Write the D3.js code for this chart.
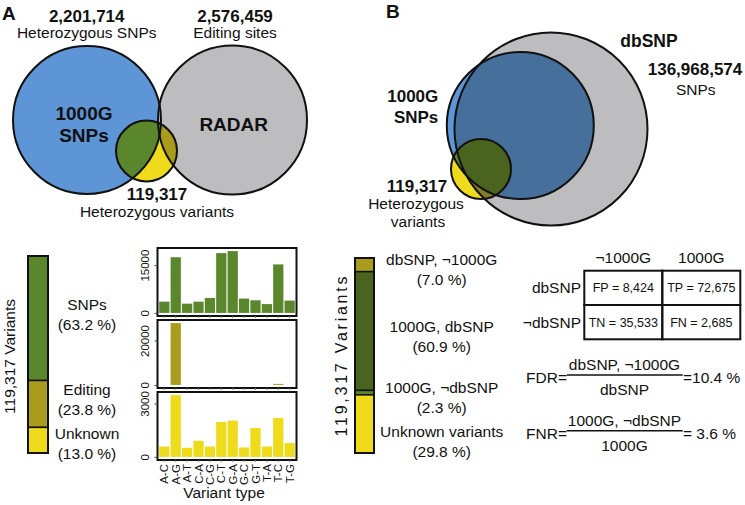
<!DOCTYPE html>
<html><head><meta charset="utf-8">
<script src="https://cdn.jsdelivr.net/npm/d3@7"></script>
<style>
body{margin:0;background:#fff}
svg{display:block}
text{font-family:"Liberation Sans",Arial,Helvetica,sans-serif;fill:#111}
</style></head>
<body><svg id="c" width="745" height="505"></svg>
<script>
// ---------------- data ----------------
const variantTypes = ["A-C","A-G","A-T","C-A","C-G","C-T","G-A","G-C","G-T","T-A","T-C","T-G"];
const snpCounts     = [3540,17480,2900,3540,4700,18770,19410,4500,3960,2770,15230,3860];
const editingCounts = [0,27850,0,0,0,0,0,0,0,0,450,0];
const unknownCounts = [583,3470,509,906,583,1964,2038,530,1623,583,2190,775];
const snpTicks = [0,15000];
const editingTicks = [0,20000];
const unknownTicks = [0,3000];

const totalVariants = 119317;
const classA = ["SNPs","Editing","Unknown"];
const classAPct = [63.2,23.8,13.0];

const vennACounts = [2201714, 2576459];
const vennADesc = ["Heterozygous SNPs","Editing sites"];
const vennANames = [["1000G","SNPs"],["RADAR"]];
const dbsnpCount = 136968574;

const confRows = ["dbSNP","¬dbSNP"];
const confCols = ["¬1000G","1000G"];
const confKeys = [["FP","TP"],["TN","FN"]];
const confValues = [[8424,72675],[35533,2685]];
const classB = ["dbSNP, ¬1000G","1000G, dbSNP","1000G, ¬dbSNP","Unknown variants"];
const classBPct = [7.0,60.9,2.3,29.8];

// ---------------- setup ----------------
const svg = d3.select("#c");
const fmt = d3.format(",");
const C = {blue:"#5e95d6",gray:"#bdbdbf",green:"#5a872c",olive:"#a99c1c",yellow:"#eedb1b",
           darkBlue:"#476f9c",darkGreen:"#4a641f",darkOlive:"#857b22",ink:"#111"};
const defs = svg.append("defs");

function txt(g,x,y,s,o={}){
  return g.append("text").attr("x",x).attr("y",y).text(s)
    .attr("font-size",o.size||15.5).attr("font-weight",o.weight||"normal")
    .attr("text-anchor",o.anchor||"middle");
}
function clipCircle(id,c){
  defs.append("clipPath").attr("id",id).append("circle").attr("cx",c.cx).attr("cy",c.cy).attr("r",c.r);
}
function circ(g,c,fill,clip){
  const e=g.append("circle").attr("cx",c.cx).attr("cy",c.cy).attr("r",c.r).attr("fill",fill);
  if(clip) e.attr("clip-path",`url(#${clip})`);
  return e;
}
function outline(g,c){ circ(g,c,"none").attr("stroke",C.ink).attr("stroke-width",2); }

// ---------------- Panel A Venn ----------------
const gA = svg.append("g");
const cBlue={cx:87,cy:120,r:74}, cGray={cx:232.5,cy:120,r:74.5}, cSmall={cx:146.5,cy:151,r:30.5};
clipCircle("clipAblue",cBlue); clipCircle("clipAgray",cGray);
circ(gA,cBlue,C.blue); circ(gA,cGray,C.gray);
circ(gA,cSmall,C.yellow);
circ(gA,cSmall,C.green,"clipAblue");
circ(gA,cSmall,C.olive,"clipAgray");
[cBlue,cGray,cSmall].forEach(c=>outline(gA,c));
txt(gA,2,20,"A",{size:19,weight:"bold",anchor:"start"});
txt(gA,86.7,21.7,fmt(vennACounts[0]),{size:17,weight:"bold"});
txt(gA,86.7,38,vennADesc[0]);
txt(gA,235,21.7,fmt(vennACounts[1]),{size:17,weight:"bold"});
txt(gA,235,38,vennADesc[1]);
txt(gA,84,120,vennANames[0][0],{size:19,weight:"bold"});
txt(gA,84,141.7,vennANames[0][1],{size:19,weight:"bold"});
txt(gA,233.7,131,vennANames[1][0],{size:19,weight:"bold"});
txt(gA,157,199.5,fmt(totalVariants),{size:17,weight:"bold"});
txt(gA,157,216.5,"Heterozygous variants");

// ---------------- stacked bar helper ----------------
function stackedBar(g,x0,x1,y0,y1,names,vals,colors,labelX,shift,gap){
  const total=d3.sum(vals);
  const y=d3.scaleLinear().domain([0,total]).range([y0,y1]);
  let acc=0; const segs=vals.map((v,i)=>{const s={a:acc,b:acc+v,name:names[i],v,c:colors[i]};acc+=v;return s;});
  g.selectAll(null).data(segs).join("rect")
    .attr("x",x0).attr("width",x1-x0)
    .attr("y",d=>y(d.a)).attr("height",d=>y(d.b)-y(d.a))
    .attr("fill",d=>d.c).attr("stroke",C.ink).attr("stroke-width",1.5);
  g.append("rect").attr("x",x0).attr("y",y0).attr("width",x1-x0).attr("height",y1-y0)
    .attr("fill","none").attr("stroke",C.ink).attr("stroke-width",2);
  let prev=-Infinity;
  segs.forEach(s=>{
    let c=(y(s.a)+y(s.b))/2+shift;
    c=Math.max(c,prev+gap); prev=c;
    txt(g,labelX,c-8.5,s.name);
    txt(g,labelX,c+11.5,`(${d3.format(".1f")(s.v/total*100)} %)`);
  });
  return y;
}

// ---------------- Panel A stacked bar ----------------
const gAs = svg.append("g");
stackedBar(gAs,28,48,256,453,classA,classAPct,[C.green,C.olive,C.yellow],87,0,44);
gAs.append("text").attr("transform","translate(10,356.5) rotate(-90)").attr("dy","0.35em")
  .attr("text-anchor","middle").attr("font-size",15.5).text(`${fmt(totalVariants)} Variants`);

// ---------------- Panel A bar charts ----------------
const gB = svg.append("g");
const bx = d3.scaleBand().domain(variantTypes).range([157.5,296.5]).paddingInner(0.1).paddingOuter(0.15);
const panels = [
  {values:snpCounts, ticks:snpTicks, color:C.green, top:248},
  {values:editingCounts, ticks:editingTicks, color:C.olive, top:320},
  {values:unknownCounts, ticks:unknownTicks, color:C.yellow, top:392}
];
const PH = 68;
panels.forEach((p,pi)=>{
  const mx=d3.max(p.values);
  const y=d3.scaleLinear().domain([-0.05*mx,1.05*mx]).range([p.top+PH,p.top]);
  const g=gB.append("g");
  g.selectAll(null).data(p.values).join("rect")
    .attr("x",(d,i)=>bx(variantTypes[i])).attr("width",bx.bandwidth())
    .attr("y",d=>y(d)).attr("height",d=>Math.max(0,y(0)-y(d)))
    .attr("fill",p.color);
  g.append("rect").attr("x",157.5).attr("y",p.top).attr("width",139).attr("height",PH)
    .attr("fill","none").attr("stroke",C.ink).attr("stroke-width",2);
  const ya=g.append("g").attr("transform","translate(157.5,0)")
    .call(d3.axisLeft(y).tickValues(p.ticks).tickSize(3).tickFormat(d3.format("d")));
  ya.select(".domain").remove();
  ya.selectAll("line").attr("stroke","#444");
  ya.selectAll("text").attr("x",null).attr("dy","0.35em").attr("transform","translate(-13,0) rotate(-90)")
    .attr("text-anchor","middle").attr("font-size",11.5).attr("font-family",null).attr("fill",C.ink);
  const xa=g.append("g").attr("transform",`translate(0,${p.top+PH})`)
    .call(d3.axisBottom(bx).tickSize(2));
  xa.select(".domain").remove();
  xa.selectAll("line").attr("stroke","#777");
  if(pi<panels.length-1){ xa.selectAll("text").remove(); }
  else{
    xa.selectAll("text").attr("y",null).attr("dy","0.35em").attr("transform","translate(0,4) rotate(-90)")
      .attr("text-anchor","end").attr("font-size",11.5).attr("font-family",null).attr("fill",C.ink);
  }
});
txt(gB,224,498,"Variant type");

// ---------------- Panel B Venn ----------------
const gV = svg.append("g");
const bGray={cx:551,cy:129,r:96.5}, bBlue={cx:520.3,cy:125.5,r:73.5}, bSmall={cx:481,cy:169,r:30};
clipCircle("clipBgray",bGray); clipCircle("clipBblue",bBlue);
circ(gV,bGray,C.gray);
circ(gV,bBlue,C.blue);
circ(gV,bBlue,C.darkBlue,"clipBgray");
circ(gV,bSmall,C.yellow);
circ(gV,bSmall,C.green,"clipBblue");
circ(gV,bSmall,C.darkOlive,"clipBgray");
gV.append("g").attr("clip-path","url(#clipBblue)").call(g=>circ(g,bSmall,C.darkGreen,"clipBgray"));
[bGray,bBlue,bSmall].forEach(c=>outline(gV,c));
txt(gV,386,18.3,"B",{size:19,weight:"bold",anchor:"start"});
txt(gV,649,46.7,"dbSNP",{size:17.5,weight:"bold"});
txt(gV,695,75,fmt(dbsnpCount),{size:17,weight:"bold"});
txt(gV,695.7,95,"SNPs");
txt(gV,438.3,101.7,"1000G",{size:17,weight:"bold",anchor:"end"});
txt(gV,438.3,123.3,"SNPs",{size:17,weight:"bold",anchor:"end"});
txt(gV,417,191.7,fmt(totalVariants),{size:17,weight:"bold"});
txt(gV,416,209,"Heterozygous");
txt(gV,418,226.5,"variants");

// ---------------- Panel B stacked bar ----------------
const gBs = svg.append("g");
stackedBar(gBs,355,374,258,453,classB,classBPct,[C.olive,C.darkGreen,C.green,C.yellow],441.7,9,44);
gBs.append("text").attr("transform","translate(341,356.5) rotate(-90)").attr("dy","0.35em")
  .attr("text-anchor","middle").attr("font-size",16).attr("textLength",160).attr("lengthAdjust","spacing")
  .text(`${fmt(totalVariants)} Variants`);

// ---------------- Confusion table ----------------
const gT = svg.append("g");
const tx = d3.scaleBand().domain(confCols).range([584.3,740.3]);
const ty = d3.scaleBand().domain(confRows).range([270.7,339.3]);
confRows.forEach((r,ri)=>confCols.forEach((c,ci)=>{
  gT.append("rect").attr("x",tx(c)).attr("y",ty(r)).attr("width",tx.bandwidth()).attr("height",ty.bandwidth())
    .attr("fill","none").attr("stroke",C.ink).attr("stroke-width",2);
  txt(gT,tx(c)+tx.bandwidth()/2,ty(r)+ty.bandwidth()/2,`${confKeys[ri][ci]} = ${fmt(confValues[ri][ci])}`,{size:12.5})
    .attr("dy","0.35em");
}));
confCols.forEach(c=>txt(gT,tx(c)+tx.bandwidth()/2,263.3,c));
confRows.forEach(r=>txt(gT,581,ty(r)+ty.bandwidth()/2,r,{anchor:"end"}).attr("dy","0.35em"));

// ---------------- FDR / FNR ----------------
const FP=confValues[0][0], TP=confValues[0][1], FN=confValues[1][1];
const fdr=FP/(FP+TP)*100, fnr=FN/(FN+TP)*100;
function fraction(lineY,name,num,den,res){
  gT.append("line").attr("x1",566.7).attr("x2",682.7).attr("y1",lineY).attr("y2",lineY)
    .attr("stroke",C.ink).attr("stroke-width",1.5);
  txt(gT,624.5,lineY-5,num);
  txt(gT,624.5,lineY+20,den);
  txt(gT,567,lineY+8,name+"=",{anchor:"end"});
  txt(gT,683,lineY+8,res,{anchor:"start"});
}
fraction(375,"FDR","dbSNP, ¬1000G","dbSNP","="+d3.format(".1f")(fdr)+" %");
fraction(430.7,"FNR","1000G, ¬dbSNP","1000G","= "+d3.format(".1f")(fnr)+" %");
</script></body></html>
